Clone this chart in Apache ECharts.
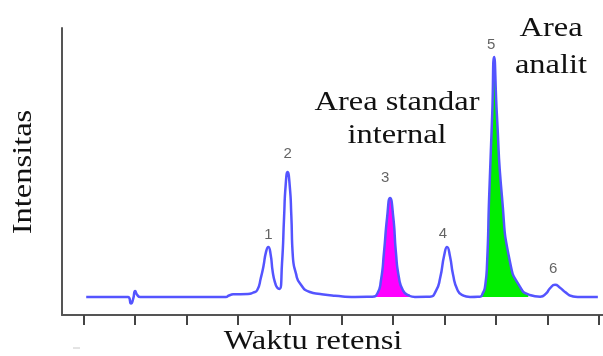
<!DOCTYPE html>
<html>
<head>
<meta charset="utf-8">
<script src="https://cdn.jsdelivr.net/npm/echarts@6/dist/echarts.min.js"></script>
<style>
  html, body { margin: 0; padding: 0; background: #fff; }
  #chart { width: 603px; height: 356px; }
</style>
</head>
<body>
<div id="chart"></div>
<script>
// Chromatogram trace: retention time (min) and detector intensity (a.u.)
const retentionTime = [
  0.05, 0.86, 0.92, 0.96, 1.00, 1.04, 1.10,
  2.76, 2.82, 2.90, 3.19, 3.29, 3.37, 3.44, 3.49, 3.54, 3.584, 3.63, 3.67, 3.72, 3.76, 3.80,
  3.85, 3.89, 3.92, 3.958, 4.00, 4.03, 4.06, 4.12, 4.20, 4.39, 4.59, 4.88, 5.27,
  5.60, 5.70, 5.77, 5.83, 5.89, 5.947, 6.01, 6.06, 6.12, 6.20, 6.30, 6.43,
  6.72, 6.84, 6.92, 7.00, 7.053, 7.11, 7.17, 7.25, 7.34, 7.50,
  7.69, 7.75, 7.79, 7.83, 7.87, 7.93, 7.966, 8.02, 8.12, 8.28, 8.47, 8.63,
  8.86, 8.98, 9.05, 9.15, 9.24, 9.36, 9.47, 9.59, 9.98
];
const intensity = [
  6.3, 6.3, 4.0, 5.5, 8.4, 7.0, 6.3,
  6.3, 6.8, 7.2, 7.3, 7.8, 8.7, 13.0, 17.0, 22.0, 23.7, 21.0, 15.0, 11.0, 9.5, 9.1,
  18.0, 34.0, 45.0, 49.8, 45.0, 35.0, 20.5, 14.5, 11.0, 8.0, 7.3, 6.7, 6.3,
  6.4, 7.5, 12.0, 22.0, 34.0, 40.8, 34.0, 22.0, 13.0, 8.5, 6.9, 6.3,
  6.4, 8.5, 13.0, 21.0, 23.7, 20.5, 14.0, 9.0, 7.0, 6.3,
  6.4, 7.7, 9.8, 18.0, 41.0, 70.0, 89.9, 70.0, 41.0, 18.0, 9.8, 7.2,
  6.4, 7.6, 9.3, 10.5, 9.6, 7.8, 6.6, 6.3, 6.3
];

// Numbered peaks
const peakNames = ['1', '2', '3', '4', '5', '6'];
const peakTime = [3.584, 3.958, 5.947, 7.053, 7.966, 9.15];
const peakHeight = [23.7, 49.8, 40.8, 23.7, 89.9, 10.5];

// Integrated regions (start, end in minutes) and detector baseline
const internalStdWindow = [5.59, 6.44];
const analyteWindow = [7.69, 8.63];
const baseline = 6.3;

// Retention-time tick marks
const timeTicks = [0, 1, 2, 3, 4, 5, 6, 7, 8, 9, 10];

const trace = retentionTime.map((t, i) => [t, intensity[i]]);
const segment = (w) => trace.filter(p => p[0] >= w[0] && p[0] <= w[1]);

// label nudges for the peak numbers: [dx, distance above the apex]
const labelNudge = [[0, 5], [0, 11], [-5, 13], [-4, 6], [-3, 5], [-2, 9]];

const serif = '"Liberation Serif", "Times New Roman", serif';
const stretch = 1.16;
function serifText(x, y, text, rotation) {
  return {
    type: 'text', x: x, y: y, rotation: rotation || 0, scaleX: stretch,
    style: { text: text, x: 0, y: 0, font: '28px ' + serif, fill: '#111',
             textAlign: 'center', textVerticalAlign: 'middle' }
  };
}

const chart = echarts.init(document.getElementById('chart'), null, { renderer: 'canvas' });
const smoothing = 0.6;
chart.setOption({
  animation: false,
  backgroundColor: '#fff',
  grid: { left: 62, right: 0, top: 28, bottom: 41, containLabel: false },
  xAxis: {
    type: 'value', min: -0.42, max: 10.08,
    axisLine: { show: true, onZero: false, lineStyle: { color: '#555', width: 2 } },
    axisTick: { show: true, customValues: timeTicks, length: 10, inside: false,
                lineStyle: { color: '#444', width: 2 } },
    axisLabel: { show: false },
    splitLine: { show: false }
  },
  yAxis: {
    type: 'value', min: 0, max: 100,
    axisLine: { show: true, onZero: false, lineStyle: { color: '#555', width: 2 } },
    axisTick: { show: false },
    axisLabel: { show: false },
    splitLine: { show: false }
  },
  series: [
    {
      type: 'line', data: segment(internalStdWindow), smooth: smoothing,
      showSymbol: false, lineStyle: { width: 0, opacity: 0 }, z: 1,
      areaStyle: { color: '#ff00ff', opacity: 1, origin: baseline }
    },
    {
      type: 'line', data: segment(analyteWindow), smooth: smoothing,
      showSymbol: false, lineStyle: { width: 0, opacity: 0 }, z: 1,
      areaStyle: { color: '#00ee00', opacity: 1, origin: baseline }
    },
    {
      type: 'line', data: trace, smooth: smoothing,
      showSymbol: false, z: 3,
      lineStyle: { color: '#5454ff', width: 2.5 }
    },
    {
      type: 'scatter', symbolSize: 0, z: 4,
      data: peakTime.map((t, i) => ({
        value: [t, peakHeight[i]], name: peakNames[i],
        label: { offset: [labelNudge[i][0], 0], distance: labelNudge[i][1] }
      })),
      label: {
        show: true, position: 'top', formatter: (p) => p.name,
        color: '#3c3c3c', fontSize: 15, fontFamily: '"Liberation Sans", Arial, sans-serif'
      }
    }
  ],
  graphic: [
    serifText(397, 103, 'Area standar'),
    serifText(397, 136, 'internal'),
    serifText(551, 29, 'Area'),
    serifText(551, 66, 'analit'),
    serifText(313, 342, 'Waktu retensi'),
    serifText(24, 172, 'Intensitas', Math.PI / 2),
    { type: 'line', shape: { x1: 73, y1: 348, x2: 80, y2: 348 },
      style: { stroke: '#c8c8c8', lineWidth: 1 } }
  ]
});
</script>
</body>
</html>
